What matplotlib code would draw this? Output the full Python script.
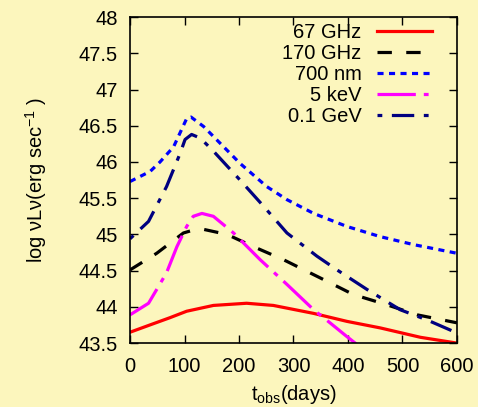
import matplotlib.pyplot as plt

plt.rcParams['font.family'] = ['Liberation Sans', 'DejaVu Sans']

# ---- data ----
t_67 = [0, 40, 73, 104, 153, 214, 263, 337, 398, 459, 533, 600]
v_67 = [43.65, 43.76, 43.85, 43.94, 44.02, 44.05, 44.02, 43.91, 43.80, 43.71, 43.58, 43.50]

t_170 = [0, 49, 98, 116, 135, 178, 227, 282, 349, 410, 471, 527, 600]
v_170 = [44.51, 44.74, 45.02, 45.06, 45.07, 45.00, 44.83, 44.65, 44.40, 44.17, 44.03, 43.89, 43.78]

t_700 = [0, 37, 55, 80, 104, 112, 135, 202, 251, 288, 337, 398, 459, 520, 600]
v_700 = [45.73, 45.87, 46.00, 46.21, 46.60, 46.62, 46.49, 45.98, 45.66, 45.48, 45.29, 45.11, 44.97, 44.86, 44.74]

t_5k = [0, 34, 67, 86, 104, 116, 132, 153, 190, 239, 288, 337, 367, 398, 420]
v_5k = [43.89, 44.05, 44.47, 44.83, 45.11, 45.25, 45.29, 45.25, 45.02, 44.65, 44.31, 43.96, 43.78, 43.59, 43.46]

t_gev = [0, 34, 67, 92, 101, 113, 129, 153, 202, 245, 288, 343, 380, 435, 496, 545, 600]
v_gev = [44.94, 45.18, 45.66, 46.12, 46.31, 46.38, 46.33, 46.15, 45.75, 45.39, 45.02, 44.70, 44.51, 44.24, 43.96, 43.82, 43.64]

bg = '#fcf6bd'
fs = 14.5
fig = plt.figure(figsize=(4.78, 4.07), dpi=100, facecolor=bg)
ax = fig.add_axes([0.272, 0.157, 0.684, 0.801], facecolor=bg)

lw = 2.3
ax.plot(t_67, v_67, color='#ff0000', lw=lw, label='67 GHz')
ax.plot(t_170, v_170, color='black', lw=lw, dashes=(4.5, 4.5), label='170 GHz')
ax.plot(t_700, v_700, color='#0000ff', lw=lw, dashes=(1.9, 1.7), label='700 nm')
ax.plot(t_5k, v_5k, color='#ff00ff', lw=lw, dashes=(12, 2.5, 1.5, 2.5), label='5 keV')
ax.plot(t_gev, v_gev, color='#000080', lw=lw, dashes=(1.5, 3, 7, 3), label='0.1 GeV')

ax.set_xlim(0, 600)
ax.set_ylim(43.5, 48)
ax.set_xticks([0, 100, 200, 300, 400, 500, 600])
ax.set_yticks([43.5, 44, 44.5, 45, 45.5, 46, 46.5, 47, 47.5, 48])
ax.set_yticklabels(['43.5', '44', '44.5', '45', '45.5', '46', '46.5', '47', '47.5', '48'])
ax.tick_params(direction='in', length=6, width=1, top=True, right=True, labelsize=fs)
ax.tick_params(axis='x', pad=10)
ax.tick_params(axis='y', pad=9)
for s in ax.spines.values():
    s.set_linewidth(1.2)

ax.set_xlabel('t$_{\\mathregular{obs}}$(days)', fontsize=fs, labelpad=5)
ax.set_ylabel('log νLν(erg sec$^{\\mathregular{-1}}$ )', fontsize=fs, labelpad=21)

ax.legend(loc='upper right', frameon=False, markerfirst=False, fontsize=fs,
          handlelength=2.75, handletextpad=0.75, labelspacing=0.1,
          borderpad=0, borderaxespad=0, bbox_to_anchor=(0.924, 0.982))

plt.savefig('out.png', dpi=100, facecolor=bg)
